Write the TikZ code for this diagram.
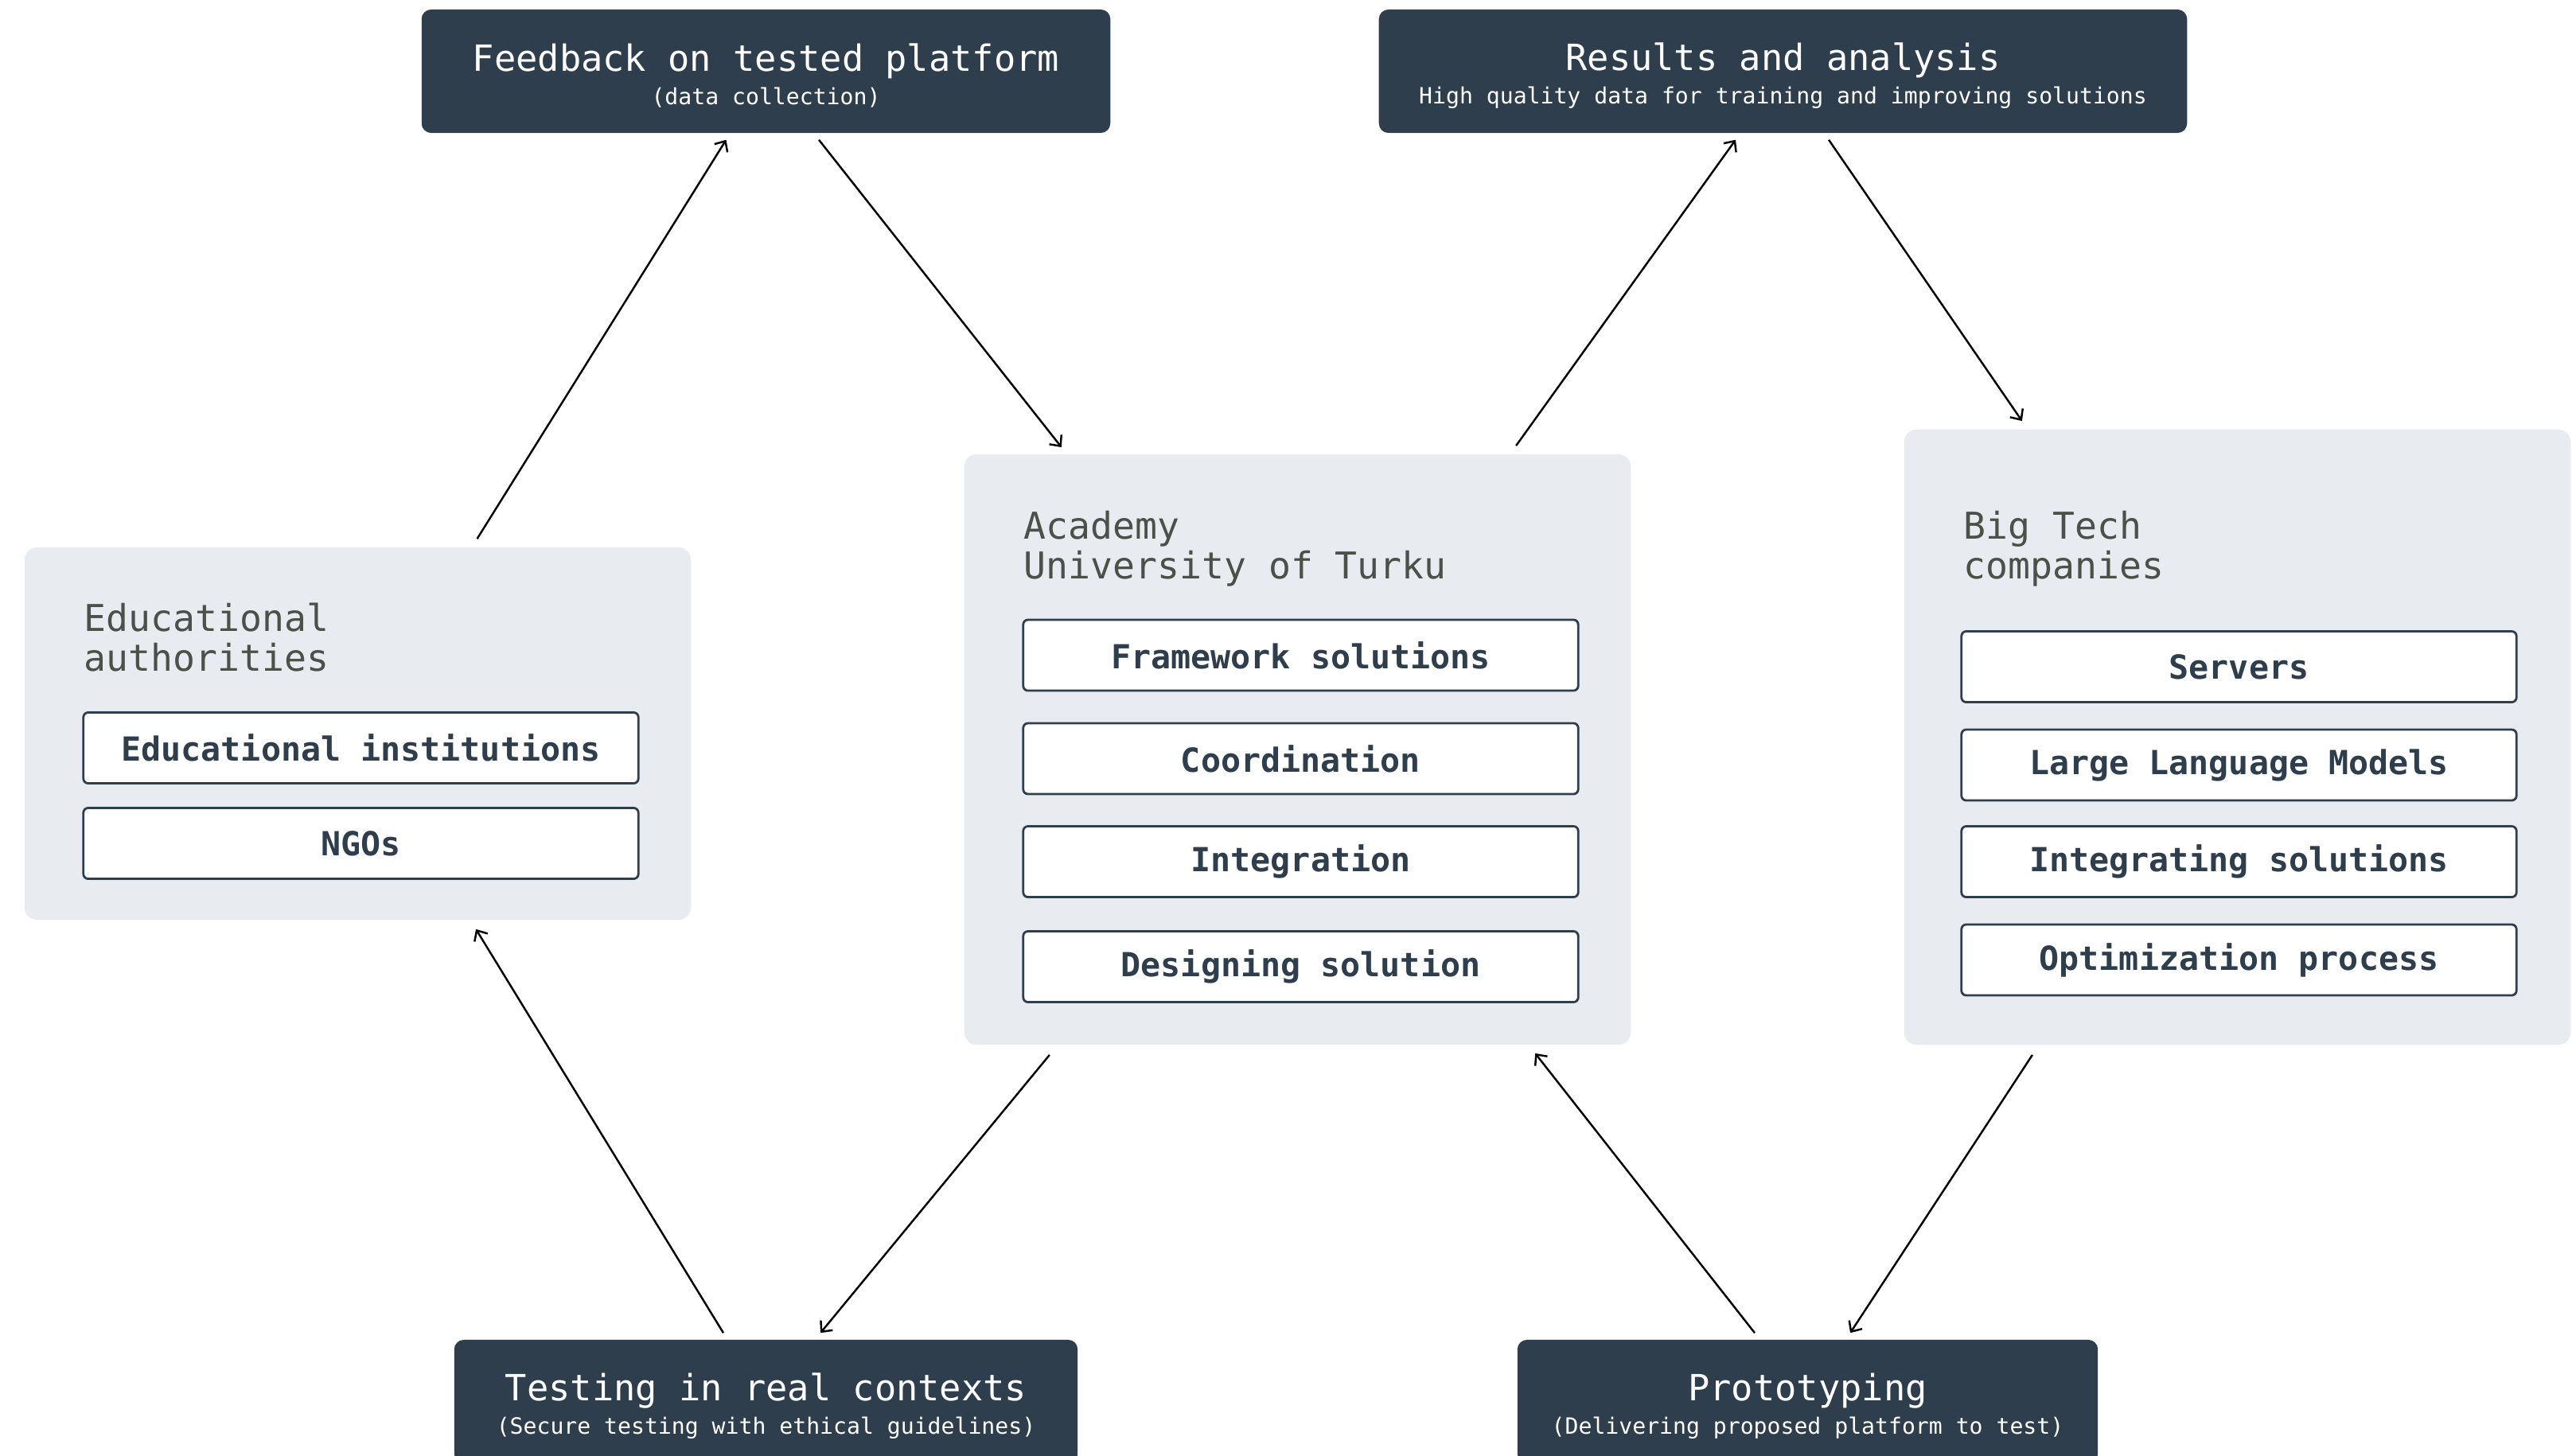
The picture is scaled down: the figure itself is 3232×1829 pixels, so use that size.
\documentclass[tikz,border=0pt]{standalone}
\usepackage{fontspec}
\setmonofont{DejaVu Sans Mono}
\usetikzlibrary{arrows.meta}

\definecolor{slate}{HTML}{2F3E4C}
\definecolor{panelbg}{HTML}{E8ECF0}
\definecolor{headgrey}{HTML}{4C5049}

\newcommand{\subline}{\fontsize{8}{10}\selectfont}
\newcommand{\stagetitle}[1]{\rule{0pt}{13.2pt}#1}

\tikzset{
  stage/.style={fill=slate, rounded corners=3.4pt, text=white, align=center,
    inner sep=0pt, minimum height=1.55cm,
    font=\ttfamily\fontsize{12.9}{12}\selectfont},
  panel/.style={fill=panelbg, rounded corners=4.5pt, inner sep=0pt, minimum width=8.37cm},
  panelhead/.style={anchor=base west, text=headgrey, align=left, inner sep=0pt,
    font=\ttfamily\fontsize{13.2}{14.2}\selectfont},
  item/.style={draw=slate, line width=0.8pt, fill=white, rounded corners=1.7pt,
    minimum width=6.97cm, minimum height=0.89cm, inner sep=0pt, text=slate,
    font=\ttfamily\bfseries\fontsize{11.85}{14}\selectfont},
  flow/.style={-{Straight Barb[length=3pt,width=5.5pt]}, line width=0.7pt},
}

\begin{document}
\begin{tikzpicture}[x=0.01cm, y=-0.01cm]
  \useasboundingbox (0,0) rectangle (3232,1829);

  % the four stages of the cycle
  \node[stage, minimum width=8.65cm]  (feed)    at (962.5,89.5)
    {\stagetitle{Feedback on tested platform}\\{\subline (data collection)}};
  \node[stage, minimum width=10.15cm] (results) at (2240.5,89.5)
    {\stagetitle{Results and analysis}\\{\subline High quality data for training and improving solutions}};
  \node[stage, minimum width=7.83cm]  (test)    at (962.5,1761.5)
    {\stagetitle{Testing in real contexts}\\{\subline (Secure testing with ethical guidelines)}};
  \node[stage, minimum width=7.29cm]  (proto)   at (2271.5,1761.5)
    {\stagetitle{Prototyping}\\{\subline (Delivering proposed platform to test)}};

  % partners
  \node[panel, minimum height=4.68cm] (edu)     at (449.5,922) {};
  \node[panel, minimum height=7.42cm] (academy) at (1630.5,942) {};
  \node[panel, minimum height=7.73cm] (bigtech) at (2811.5,926.5) {};

  % base of a two-line head is its second line
  \node[panelhead] (eduhead) at (105,843)  {Educational\\authorities};
  \node[panelhead] (acahead) at (1286,727) {Academy\\University of Turku};
  \node[panelhead] (bthead)  at (2467,727) {Big Tech\\companies};

  \node[item] (inst) at (453.5,940)  {Educational institutions};
  \node[item] (ngo)  at (453.5,1060) {NGOs};

  \node[item] (frame) at (1634.5,823.5) {Framework solutions};
  \node[item] (coord) at (1634.5,953.5) {Coordination};
  \node[item] (integ) at (1634.5,1083)  {Integration};
  \node[item] (design) at (1634.5,1215) {Designing solution};

  \node[item] (serv) at (2813.5,838)    {Servers};
  \node[item] (llm)  at (2813.5,961.5)  {Large Language Models};
  \node[item] (isol) at (2813.5,1083)   {Integrating solutions};
  \node[item] (optim) at (2813.5,1206.5) {Optimization process};

  % flow between stages and partners
  \draw[flow] ([xshift=1.5cm,yshift=0.1cm]edu.north) -- ([xshift=-0.5cm,yshift=-0.08cm]feed.south);
  \draw[flow] ([xshift=0.665cm,yshift=-0.08cm]feed.south) -- ([xshift=-2.965cm,yshift=0.08cm]academy.north);
  \draw[flow] ([xshift=2.745cm,yshift=0.1cm]academy.north) -- ([xshift=-0.595cm,yshift=-0.08cm]results.south);
  \draw[flow] ([xshift=0.575cm,yshift=-0.08cm]results.south) -- ([xshift=-2.705cm,yshift=0.1cm]bigtech.north);
  \draw[flow] ([xshift=-2.575cm,yshift=-0.12cm]bigtech.south) -- ([xshift=0.535cm,yshift=0.08cm]proto.north);
  \draw[flow] ([xshift=-0.665cm,yshift=0.08cm]proto.north) -- ([xshift=2.985cm,yshift=-0.1cm]academy.south);
  \draw[flow] ([xshift=-3.115cm,yshift=-0.12cm]academy.south) -- ([xshift=0.685cm,yshift=0.08cm]test.north);
  \draw[flow] ([xshift=-0.535cm,yshift=0.08cm]test.north) -- ([xshift=1.485cm,yshift=-0.11cm]edu.south);
\end{tikzpicture}
\end{document}
